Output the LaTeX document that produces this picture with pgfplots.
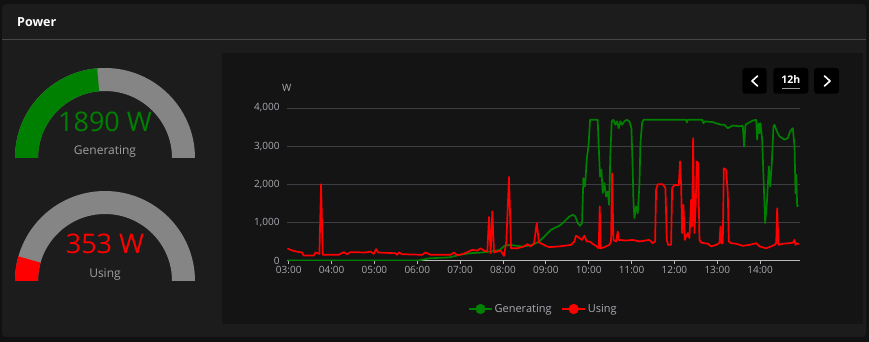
\documentclass[border=0pt]{standalone}
\usepackage{fontspec}
\setmainfont{Open Sans}
\usepackage{pgfplots}
\pgfplotsset{compat=1.18}
\definecolor{outerbg}{HTML}{111111}
\definecolor{card}{HTML}{1C1C1C}
\definecolor{panel}{HTML}{141414}
\definecolor{divider}{HTML}{474747}
\definecolor{gaugegray}{HTML}{858585}
\definecolor{gen}{HTML}{008000}
\definecolor{use}{HTML}{FF0000}
\definecolor{ticktxt}{HTML}{AAAAB2}
\definecolor{gridc}{HTML}{3E3E44}
\definecolor{axisc}{HTML}{BBBBBB}
\definecolor{labeltxt}{HTML}{A0A0A0}
\definecolor{ulbar}{HTML}{9A9A9A}

\begin{document}
\begin{tikzpicture}[x=1pt,y=1pt]
\fill[outerbg] (0,0) rectangle (869,342);
\fill[card, rounded corners=4pt] (2,5) rectangle (866,338);
\draw[divider, line width=1pt] (2,302.7) -- (866,302.7);
\node[anchor=west, white, font=\bfseries\fontsize{12.5}{15}\selectfont, inner sep=0pt] at (17,320) {Power};
\fill[panel] (222,18.3) rectangle (863.3,288.7);

% gauge 1
\fill[gaugegray] (195,184) arc[start angle=0,end angle=180,radius=90] -- (38,184) arc[start angle=180,end angle=0,radius=67] -- cycle;
\fill[gen] (15,184) arc[start angle=180,end angle=95,radius=90] -- ([shift={(95:67)}]105,184) arc[start angle=95,end angle=180,radius=67] -- cycle;
\node[gen, font=\fontsize{27}{30}\selectfont] at (105,220) {1890 W};
\node[labeltxt, font=\fontsize{12}{14}\selectfont] at (105,190) {Generating};

% gauge 2
\fill[gaugegray] (195,61) arc[start angle=0,end angle=180,radius=90] -- (38,61) arc[start angle=180,end angle=0,radius=67] -- cycle;
\fill[use] (15,61) arc[start angle=180,end angle=164.1,radius=90] -- ([shift={(164.1:67)}]105,61) arc[start angle=164.1,end angle=180,radius=67] -- cycle;
\node[use, font=\fontsize{27}{30}\selectfont] at (105,98) {353 W};
\node[labeltxt, font=\fontsize{12}{14}\selectfont] at (105,67.5) {Using};

% buttons
\fill[black, rounded corners=3pt] (742.3,248.3) rectangle (766.7,274);
\draw[white, line width=1.6pt, line cap=round, line join=round] (757.5,266) -- (752,261) -- (757.5,256);
\fill[black, rounded corners=3pt] (773.3,248.3) rectangle (808.3,274);
\node[white, font=\bfseries\fontsize{10.5}{12}\selectfont] at (790.8,262) {12h};
\fill[ulbar] (781.7,252.7) rectangle (800,254);
\fill[black, rounded corners=3pt] (814,248.3) rectangle (839,274);
\draw[white, line width=1.6pt, line cap=round, line join=round] (824.5,266) -- (830,261) -- (824.5,256);

\node[ticktxt, font=\fontsize{10}{12}\selectfont] at (286.7,254) {W};

\begin{axis}[
  at={(287pt,81.5pt)}, anchor=south west, scale only axis,
  width=513pt, height=152.5pt,
  xmin=2.96, xmax=14.93, ymin=0, ymax=4000,
  axis x line*=bottom, axis y line*=left,
  axis line style={-},
  y axis line style={draw=none},
  x axis line style={draw=axisc, line width=0.8pt},
  xtick={3,4,5,6,7,8,9,10,11,12,13,14},
  xticklabels={03:00,04:00,05:00,06:00,07:00,08:00,09:00,10:00,11:00,12:00,13:00,14:00},
  ytick={0,1000,2000,3000,4000},
  yticklabels={0,{1,000},{2,000},{3,000},{4,000}},
  ymajorgrids, grid style={draw=gridc, line width=0.8pt},
  tick align=outside, major tick length=4pt,
  x tick style={draw=axisc, line width=0.8pt},
  y tick style={draw=none},
  tick label style={ticktxt, font=\fontsize{10}{12}\selectfont},
  xticklabel style={yshift=2pt},
  legend style={at={(0.5,-0.318)}, anchor=center, draw=none, fill=none,
    text=ticktxt, font=\fontsize{11}{13}\selectfont, legend columns=2,
    /tikz/every even column/.append style={column sep=8pt}},
  legend image code/.code={\draw[#1,line width=1.2pt] (0pt,0pt) -- (23pt,0pt); \fill[#1] (11.5pt,0pt) circle (4.2pt);},
]
\addplot[gen, line width=1.7pt, line join=round] coordinates {
(2.97,0) (6.03,0) (6.28,57) (6.75,83) (6.98,145) (7.22,190) (7.45,205) (7.68,230) (7.92,275) (8.03,380) (8.15,410) (8.46,365) (8.69,410) (8.85,500)
(8.965,630) (9.121,805) (9.198,850) (9.315,910) (9.393,980) (9.471,1070) (9.549,1155) (9.626,1200) (9.689,1155) (9.743,980) (9.798,910) (9.844,980)
(9.875,2160) (9.914,1940) (9.953,2640) (10.000,3080) (10.031,3690) (10.210,3690) (10.233,2990) (10.265,2200) (10.296,2380) (10.327,1770) (10.366,2030)
(10.405,1680) (10.444,1810) (10.475,1460) (10.506,2820) (10.537,3650) (10.576,3690) (10.623,3560) (10.662,3650) (10.700,3470) (10.739,3650) (10.778,3560)
(10.833,3650) (10.887,3690) (10.949,3650) (10.996,3470) (11.020,2640) (11.043,1590) (11.066,1110) (11.105,1420) (11.144,1240) (11.183,1990) (11.207,3080)
(11.245,3600) (11.277,3690) (12.273,3690) (12.288,3620) (12.311,3690) (12.646,3690) (12.677,3600) (12.708,3650) (12.895,3630) (12.973,3600) (13.090,3560)
(13.167,3560) (13.245,3470) (13.362,3540) (13.518,3520) (13.595,3530) (13.626,2990) (13.657,3560) (13.712,3600) (13.829,3670) (13.907,3690) (13.930,3170)
(13.961,3600) (13.985,3340) (14.008,3600) (14.047,3170) (14.078,2200) (14.117,980) (14.156,1500) (14.203,2470) (14.234,1940) (14.272,2555) (14.311,3520)
(14.335,3560) (14.389,3390) (14.452,3255) (14.568,3170) (14.646,3210) (14.700,3390) (14.763,3470) (14.802,2990) (14.825,1770) (14.841,2250) (14.864,1420)
(14.887,1460)
};
\addlegendentry{Generating}
\addplot[use, line width=1.7pt, line join=round] coordinates {
(2.97,320) (3.039,280) (3.156,240) (3.311,210) (3.350,130) (3.584,130) (3.623,210) (3.716,175) (3.755,2000) (3.794,150) (4.168,150) (4.285,220)
(4.363,165) (4.441,220) (4.791,210) (4.908,235) (4.986,175) (5.040,300) (5.087,210) (5.492,190) (5.531,150) (5.570,210) (5.648,165) (6.115,150)
(6.193,210) (6.310,150) (6.777,150) (6.855,210) (6.933,140) (7.050,165) (7.167,220) (7.283,280) (7.400,260) (7.478,320) (7.556,260) (7.634,235)
(7.673,1140) (7.712,190) (7.751,1290) (7.790,210) (7.868,235) (7.945,260) (8.023,120) (8.078,500) (8.140,2190) (8.187,320) (8.335,320) (8.491,370)
(8.569,430) (8.646,370) (8.724,450) (8.787,980) (8.841,470) (8.919,430) (9.004,380) (9.082,350) (9.315,370) (9.588,410) (9.665,500) (9.704,650)
(9.782,590) (9.844,540) (9.899,650) (9.953,500) (10.016,500) (10.093,440) (10.187,370) (10.233,320) (10.257,1420) (10.280,320) (10.366,350)
(10.482,410) (10.521,500) (10.545,2290) (10.576,540) (10.638,500) (10.677,760) (10.700,540) (10.872,525) (11.027,540) (11.183,500) (11.416,540)
(11.494,455) (11.549,500) (11.572,1855) (11.611,2000) (11.728,2000) (11.790,1900) (11.821,540) (11.852,410) (11.922,410) (11.946,1900) (12.000,1980)
(12.101,1980) (12.132,2600) (12.156,1990) (12.179,720) (12.210,1460) (12.241,540) (12.272,630) (12.311,720) (12.350,590) (12.389,1590) (12.412,890)
(12.436,3210) (12.467,720) (12.498,1500) (12.521,2600) (12.553,2555) (12.584,540) (12.623,470) (12.700,455) (12.778,440) (12.856,370) (12.973,410)
(13.051,455) (13.074,890) (13.097,455) (13.128,455) (13.152,2420) (13.206,2380) (13.245,1770) (13.268,500) (13.323,455) (13.440,440) (13.595,385)
(13.751,410) (13.907,455) (13.985,370) (14.140,320) (14.257,370) (14.335,410) (14.374,455) (14.397,1370) (14.428,410) (14.529,440) (14.685,455)
(14.763,470) (14.802,540) (14.825,410) (14.856,455) (14.903,430)
};
\addlegendentry{Using}
\end{axis}
\end{tikzpicture}
\end{document}
